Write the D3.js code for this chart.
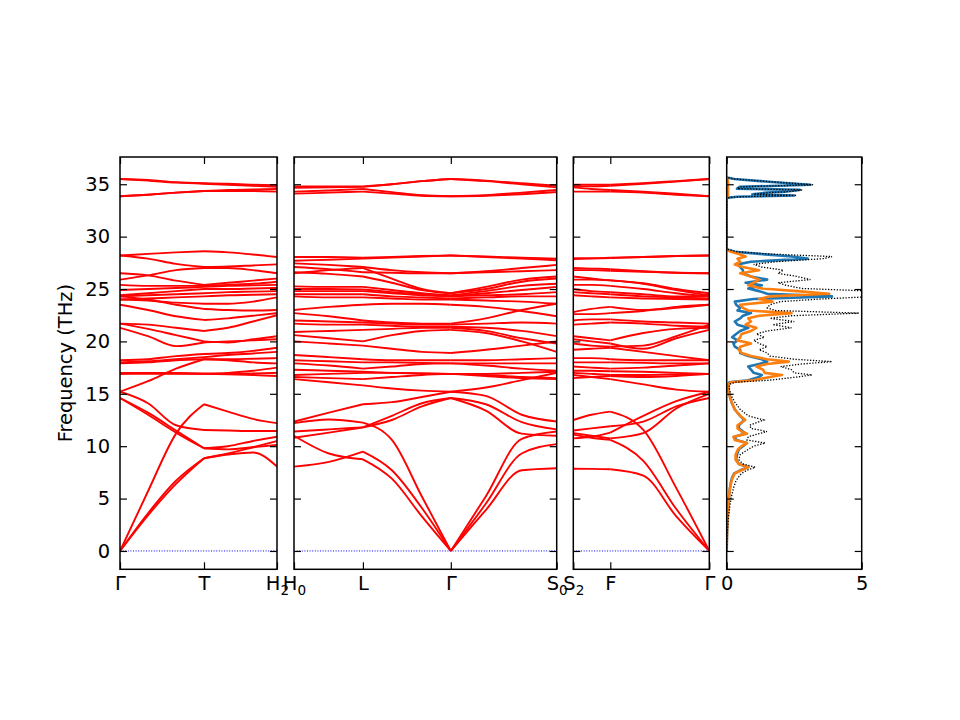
<!DOCTYPE html>
<html>
<head>
<meta charset="utf-8">
<script src="https://cdn.jsdelivr.net/npm/d3@7"></script>
<style>
body { margin: 0; background: #fff; }
text { font-family: "DejaVu Sans", sans-serif; }
</style>
</head>
<body>
<div id="chart"></div>
<script>

// DATOS: caminos k (distancia) y frecuencias (THz) en cada punto

const kTH = [0, 0.28, 0.56, 0.84, 1.08, 1.33, 1.57]
const symTH = [0, 3, 6]
const labTH = ["Γ", "T", "H_2"]

const kHLGS = [0, 0.35, 0.69, 0.98, 1.28, 1.57, 1.92, 2.28, 2.63]
const symHLGS = [0, 2, 5, 8]
const labHLGS = ["H_0", "L", "Γ", "S_0"]

const kSFG = [0, 0.18, 0.37, 0.70, 1.03, 1.36]
const symSFG = [0, 2, 5]
const labSFG = ["S_2", "F", "Γ"]

const bandsTH = [
    [35.5, 35.4, 35.2, 35.1, 35.05, 34.95, 34.9],
    [35.5, 35.35, 35.15, 35.05, 34.95, 34.85, 34.75],
    [33.85, 34.0, 34.2, 34.35, 34.45, 34.5, 34.55],
    [33.85, 34.0, 34.2, 34.35, 34.35, 34.35, 34.3],
    [28.2, 28.35, 28.5, 28.6, 28.5, 28.3, 28.05],
    [28.2, 27.9, 27.4, 27.1, 27.15, 27.25, 27.35],
    [25.9, 26.3, 26.8, 27.0, 27.0, 26.8, 26.5],
    [26.5, 26.3, 25.8, 25.4, 25.6, 25.8, 26.0],
    [25.4, 25.3, 25.3, 25.3, 25.4, 25.5, 25.7],
    [24.9, 25.0, 25.1, 25.2, 25.3, 25.35, 25.4],
    [24.4, 24.6, 24.8, 25.0, 25.0, 25.05, 25.1],
    [24.3, 24.4, 24.5, 24.6, 24.7, 24.75, 24.8],
    [24.0, 24.1, 24.2, 24.3, 24.4, 24.45, 24.5],
    [24.0, 23.9, 23.7, 23.6, 23.6, 23.8, 24.2],
    [24.3, 24.0, 23.5, 23.1, 23.0, 22.95, 23.0],
    [23.5, 23.0, 22.4, 22.05, 22.2, 22.45, 22.7],
    [21.7, 21.6, 21.3, 21.0, 21.3, 21.9, 22.5],
    [21.3, 20.5, 19.55, 19.9, 20.0, 20.1, 20.2],
    [21.7, 21.2, 20.6, 20.0, 19.9, 20.2, 20.5],
    [18.2, 18.3, 18.6, 18.8, 18.9, 19.1, 19.4],
    [18.0, 18.1, 18.3, 18.5, 18.7, 18.85, 19.0],
    [17.9, 18.0, 18.2, 18.3, 18.3, 18.35, 18.4],
    [15.2, 16.2, 17.4, 18.3, 18.2, 18.0, 17.9],
    [16.9, 17.0, 17.0, 16.95, 17.0, 17.2, 17.5],
    [16.9, 16.9, 16.9, 16.9, 16.85, 16.8, 16.7],
    [17.0, 17.0, 16.95, 16.9, 16.9, 16.95, 17.0],
    [15.2, 14.1, 12.0, 11.55, 11.5, 11.45, 11.45],
    [14.6, 13.2, 11.5, 9.8, 10.0, 10.5, 10.9],
    [14.6, 13.0, 11.3, 9.8, 9.7, 9.9, 10.12],
    [0, 5.7, 11.2, 14.0, 13.3, 12.6, 12.2],
    [0, 3.6, 6.7, 8.85, 9.3, 9.9, 10.5],
    [0, 3.4, 6.4, 8.85, 9.2, 9.4, 8.05]
]

const bandsHLGS = [
    [34.8, 34.8, 34.8, 35.0, 35.3, 35.5, 35.35, 35.1, 34.85],
    [34.65, 34.7, 34.75, 35.0, 35.3, 35.5, 35.3, 35.0, 34.7],
    [34.3, 34.4, 34.55, 34.25, 33.95, 33.85, 33.95, 34.2, 34.45],
    [34.1, 34.2, 34.3, 34.1, 33.9, 33.85, 33.9, 34.05, 34.25],
    [28.05, 28.05, 28.0, 28.05, 28.15, 28.2, 28.1, 28.0, 27.9],
    [27.7, 27.8, 27.9, 28.0, 28.1, 28.2, 28.05, 27.9, 27.75],
    [27.45, 27.3, 27.1, 26.8, 26.6, 26.5, 26.7, 27.0, 27.3],
    [27.1, 26.9, 26.6, 26.55, 26.5, 26.5, 26.6, 26.7, 26.8],
    [26.5, 26.8, 27.0, 26.0, 25.0, 24.6, 25.2, 25.9, 26.2],
    [26.6, 26.45, 26.2, 25.6, 24.9, 24.6, 25.0, 25.7, 26.0],
    [25.25, 25.2, 25.2, 24.9, 24.6, 24.4, 24.8, 25.3, 25.5],
    [25.0, 25.0, 24.95, 24.7, 24.5, 24.3, 24.6, 24.9, 25.2],
    [24.8, 24.8, 24.8, 24.6, 24.4, 24.3, 24.4, 24.5, 24.7],
    [24.5, 24.5, 24.5, 24.3, 24.2, 24.1, 24.2, 24.3, 24.3],
    [24.3, 24.2, 24.2, 24.1, 24.0, 24.0, 23.9, 23.8, 23.6],
    [23.0, 23.3, 23.5, 23.6, 23.6, 23.5, 23.3, 22.9, 22.4],
    [22.7, 22.4, 22.0, 21.8, 21.7, 21.7, 22.2, 23.0, 23.6],
    [22.0, 21.9, 21.8, 21.7, 21.6, 21.6, 21.7, 21.8, 21.7],
    [21.7, 21.6, 21.6, 21.5, 21.4, 21.4, 21.3, 21.0, 20.5],
    [20.9, 21.0, 21.1, 21.2, 21.3, 21.3, 21.0, 20.3, 19.8],
    [20.6, 20.3, 20.0, 20.6, 21.0, 21.1, 20.8, 20.0, 19.0],
    [20.0, 19.8, 19.6, 19.3, 19.0, 18.9, 19.2, 19.6, 20.0],
    [18.7, 18.5, 18.3, 18.2, 18.2, 18.2, 18.2, 18.3, 18.4],
    [18.2, 18.1, 18.0, 18.0, 17.95, 17.9, 17.9, 17.9, 17.9],
    [17.9, 17.7, 17.4, 17.6, 17.85, 17.9, 17.7, 17.4, 17.2],
    [17.3, 17.2, 17.1, 17.0, 16.95, 16.9, 16.8, 16.6, 16.5],
    [16.8, 16.9, 17.0, 17.0, 16.95, 16.9, 16.9, 17.0, 17.1],
    [16.6, 16.5, 16.4, 16.6, 16.8, 16.9, 16.7, 16.5, 16.4],
    [16.4, 16.1, 15.8, 15.5, 15.3, 15.2, 15.6, 16.3, 17.0],
    [12.35, 13.2, 14.0, 14.2, 14.7, 15.2, 14.8, 13.0, 12.35],
    [10.8, 11.3, 11.8, 12.9, 14.1, 14.6, 14.0, 12.3, 11.6],
    [11.4, 11.6, 11.8, 12.5, 13.8, 14.6, 13.4, 11.2, 11.0],
    [12.2, 12.55, 12.25, 10.6, 5.2, 0, 5.2, 10.7, 11.4],
    [11.0, 9.3, 8.75, 6.9, 3.3, 0, 4.5, 9.3, 10.2],
    [8.05, 8.5, 9.48, 7.7, 4.1, 0, 3.9, 7.7, 7.9]
]

const bandsSFG = [
    [34.95, 34.95, 34.95, 35.1, 35.3, 35.5],
    [34.8, 34.8, 34.85, 35.05, 35.25, 35.5],
    [34.7, 34.55, 34.45, 34.3, 34.1, 33.85],
    [34.3, 34.3, 34.3, 34.2, 34.0, 33.85],
    [27.95, 27.95, 28.0, 28.05, 28.15, 28.2],
    [27.85, 27.9, 27.95, 28.05, 28.15, 28.2],
    [27.0, 26.95, 26.9, 26.7, 26.55, 26.5],
    [26.8, 26.8, 26.75, 26.65, 26.55, 26.5],
    [26.2, 26.0, 25.8, 25.55, 25.0, 24.6],
    [25.9, 25.9, 25.85, 25.5, 24.9, 24.4],
    [25.4, 25.4, 25.3, 25.0, 24.6, 24.3],
    [25.0, 24.8, 24.7, 24.5, 24.3, 24.3],
    [24.7, 24.6, 24.5, 24.3, 24.2, 24.1],
    [24.4, 24.3, 24.2, 24.1, 24.05, 24.0],
    [22.8, 23.1, 23.3, 23.0, 23.2, 23.5],
    [22.6, 22.6, 22.7, 22.9, 23.3, 23.5],
    [22.0, 22.1, 22.1, 21.9, 21.8, 21.7],
    [21.6, 21.7, 21.8, 21.7, 21.5, 21.4],
    [20.5, 20.3, 20.1, 20.8, 21.2, 21.3],
    [20.2, 20.0, 19.8, 19.3, 20.3, 21.1],
    [19.8, 19.6, 19.5, 19.6, 20.5, 21.6],
    [19.2, 19.3, 19.4, 19.0, 18.6, 18.2],
    [18.4, 18.4, 18.3, 18.2, 18.2, 18.2],
    [18.0, 18.0, 18.0, 17.95, 17.9, 17.9],
    [17.6, 17.5, 17.4, 17.5, 17.7, 17.9],
    [17.2, 17.2, 17.15, 17.1, 17.0, 16.9],
    [17.0, 16.9, 16.8, 16.8, 16.85, 16.9],
    [16.5, 16.6, 16.7, 16.6, 16.7, 16.9],
    [16.8, 16.6, 16.4, 15.9, 15.4, 15.2],
    [12.5, 13.0, 13.3, 11.56, 6.0, 0],
    [11.1, 10.8, 10.6, 8.6, 4.0, 0],
    [7.85, 7.83, 7.8, 7.2, 3.3, 0],
    [11.5, 11.7, 11.9, 12.35, 13.8, 14.6],
    [11.25, 11.0, 10.75, 11.25, 13.6, 15.0],
    [10.75, 10.9, 11.3, 12.9, 14.3, 15.2]
]

// DOS: frecuencia, total (punteado), parcial 1 (azul), parcial 2 (naranja)
const dosFreq = [0, 1, 2, 3, 4, 5, 6, 6.6, 7.0, 7.4, 7.7, 8.0, 8.3, 8.7, 9.2, 9.7, 10.0, 10.3, 10.6, 10.9,
    11.2, 11.4, 11.7, 12.0, 12.5, 12.9, 13.5, 14.2, 14.9, 15.5, 15.9, 16.1, 16.3, 16.6, 16.8, 17.0, 17.3, 17.6, 17.85, 18.07,
    18.3, 18.6, 18.9, 19.2, 19.5, 19.8, 20.1, 20.4, 20.7, 21.0, 21.3, 21.6, 21.9, 22.2, 22.45, 22.7, 22.95, 23.2, 23.5, 23.8,
    24.05, 24.3, 24.55, 24.8, 25.05, 25.35, 25.6, 25.9, 26.2, 26.5, 26.8, 27.1, 27.35, 27.6, 27.9, 28.1, 28.35, 28.55, 28.8,
    33.5, 33.7, 33.8, 33.93, 34.05, 34.2, 34.3, 34.46, 34.58, 34.75, 34.95, 35.1, 35.3, 35.5, 35.65]
const dosTotal = [0, 0.01, 0.03, 0.06, 0.1, 0.16, 0.25, 0.33, 0.42, 0.55, 0.75, 1.06, 0.6, 0.45, 0.5, 0.8, 1.0, 1.43, 0.75, 0.8,
    1.2, 1.49, 0.9, 0.85, 1.37, 0.8, 0.5, 0.3, 0.15, 0.1, 0.1, 0.3, 1.6, 2.6, 3.16, 2.5, 2.4, 2.0, 2.8, 3.9,
    2.5, 1.6, 1.5, 1.2, 1.5, 1.2, 1.0, 1.4, 1.1, 1.5, 2.4, 1.7, 2.5, 1.6, 2.4, 4.9, 1.8, 1.5, 1.6, 2.0,
    3.5, 5.6, 5.8, 5.4, 2.8, 2.2, 1.9, 3.1, 2.6, 1.9, 2.1, 1.3, 1.0, 1.8, 3.6, 3.9, 1.5, 0.4, 0,
    0, 0, 0.4, 2.6, 1.0, 1.6, 2.3, 2.8, 0.4, 0.5, 3.2, 2.4, 1.3, 0.3, 0]
const dosBlue = [0, 0.005, 0.015, 0.03, 0.05, 0.08, 0.12, 0.16, 0.2, 0.28, 0.5, 0.8, 0.45, 0.35, 0.38, 0.45, 0.6, 0.75, 0.35, 0.3,
    0.7, 0.6, 0.45, 0.45, 0.65, 0.5, 0.3, 0.18, 0.1, 0.06, 0.05, 0.1, 0.8, 1.2, 1.3, 1.0, 0.9, 0.8, 1.2, 1.5,
    1.3, 0.8, 0.5, 0.5, 0.3, 0.25, 0.4, 0.2, 0.35, 0.5, 0.8, 0.4, 0.3, 0.5, 0.6, 0.9, 0.4, 0.5, 0.35, 0.3,
    1.0, 3.9, 1.5, 1.2, 0.8, 1.3, 0.7, 1.5, 0.9, 0.6, 0.6, 0.5, 0.4, 0.9, 3.0, 2.4, 1.2, 0.3, 0,
    0, 0, 0.38, 2.5, 0.95, 1.5, 2.2, 2.7, 0.38, 0.48, 3.1, 2.3, 1.25, 0.28, 0]
const dosOrange = [0, 0.005, 0.015, 0.03, 0.05, 0.08, 0.12, 0.17, 0.22, 0.3, 0.55, 0.8, 0.45, 0.33, 0.33, 0.42, 0.55, 0.75, 0.3, 0.25,
    0.75, 0.55, 0.4, 0.4, 0.69, 0.5, 0.3, 0.18, 0.1, 0.06, 0.05, 0.15, 1.0, 1.6, 2.05, 1.4, 1.35, 1.1, 1.5, 2.3,
    1.5, 0.9, 0.55, 0.45, 0.5, 0.9, 0.4, 0.5, 0.55, 0.9, 1.1, 0.7, 0.9, 0.8, 1.2, 2.4, 0.8, 0.6, 0.5, 1.7,
    1.2, 1.6, 3.8, 2.6, 1.3, 0.8, 1.0, 1.2, 0.9, 0.5, 1.2, 0.6, 0.3, 0.5, 0.4, 0.7, 0.45, 0.15, 0,
    0, 0, 0.03, 0.05, 0.05, 0.05, 0.05, 0.05, 0.05, 0.05, 0.05, 0.05, 0.04, 0.03, 0]

const yTicks = [0, 5, 10, 15, 20, 25, 30, 35]
const dosTicks = [0, 5]

// CONSTANTES DE DIBUJO

const width = 960
const height = 720
const plotTop = 157
const plotBottom = 569.3
const tickLen = 7
const fontSize = 19.44

const svg = d3.select("#chart").append("svg").attr("width", width).attr("height", height)

const y = d3.scaleLinear().domain([-1.75, 37.6]).range([plotBottom, plotTop])

const panels = [
    { x0: 120, x1: 277, ks: kTH, sym: symTH, labels: labTH, bands: bandsTH },
    { x0: 294, x1: 556.7, ks: kHLGS, sym: symHLGS, labels: labHLGS, bands: bandsHLGS },
    { x0: 573.3, x1: 709.3, ks: kSFG, sym: symSFG, labels: labSFG, bands: bandsSFG }
]

function styleAxis(g) {
    g.select(".domain").remove()
    g.selectAll(".tick line").attr("stroke", "#000").attr("stroke-width", 1.2)
    g.selectAll(".tick text").attr("fill", "#000")
    g.attr("font-size", fontSize).attr("font-family", "DejaVu Sans")
}

function frame(x0, x1, id) {
    svg.append("clipPath").attr("id", id).append("rect")
        .attr("x", x0).attr("y", plotTop).attr("width", x1 - x0).attr("height", plotBottom - plotTop)
}

function yAxes(x0, x1, withLabels) {
    const left = svg.append("g").attr("transform", `translate(${x0},0)`)
        .call(d3.axisLeft(y).tickValues(yTicks).tickSizeInner(-tickLen).tickSizeOuter(0).tickPadding(10)
            .tickFormat(withLabels ? d3.format("d") : () => ""))
    styleAxis(left)
    const right = svg.append("g").attr("transform", `translate(${x1},0)`)
        .call(d3.axisRight(y).tickValues(yTicks).tickSizeInner(-tickLen).tickSizeOuter(0).tickFormat(() => ""))
    styleAxis(right)
}

// PANELES DE BANDAS

const bandLine = d3.line().curve(d3.curveMonotoneX)

panels.forEach((p, pi) => {
    const x = d3.scaleLinear().domain([0, p.ks[p.ks.length - 1]]).range([p.x0, p.x1])
    const clipId = "clip" + pi
    frame(p.x0, p.x1, clipId)
    const g = svg.append("g").attr("clip-path", `url(#${clipId})`)

    // linea de cero
    g.append("line")
        .attr("x1", x(0)).attr("x2", x(p.ks[p.ks.length - 1]))
        .attr("y1", y(0)).attr("y2", y(0))
        .attr("stroke", "#0000ff").attr("stroke-width", 1).attr("stroke-dasharray", "1,1.6")

    p.bands.forEach(b => {
        for (let s = 0; s < p.sym.length - 1; s++) {
            const pts = d3.range(p.sym[s], p.sym[s + 1] + 1).map(i => [x(p.ks[i]), y(b[i])])
            g.append("path").attr("class", "band")
                .attr("d", bandLine(pts))
                .attr("fill", "none").attr("stroke", "#ff0000").attr("stroke-width", 1.9)
        }
    })

    const symK = p.sym.map(i => p.ks[i])

    const bottomAxis = svg.append("g").attr("transform", `translate(0,${plotBottom})`)
        .call(d3.axisBottom(x).tickValues(symK).tickSizeInner(-tickLen).tickSizeOuter(0).tickPadding(7))
    styleAxis(bottomAxis)
    bottomAxis.selectAll(".tick text").each(function (d, i) {
        const t = d3.select(this)
        const parts = p.labels[i].split("_")
        t.text(null)
        t.append("tspan").text(parts[0])
        if (parts[1]) t.append("tspan").attr("dy", 4.5).attr("font-size", 13.6).text(parts[1])
    })

    const topAxis = svg.append("g").attr("transform", `translate(0,${plotTop})`)
        .call(d3.axisTop(x).tickValues(symK).tickSizeInner(-tickLen).tickSizeOuter(0).tickFormat(() => ""))
    styleAxis(topAxis)

    yAxes(p.x0, p.x1, pi === 0)

    svg.append("rect").attr("x", p.x0).attr("y", plotTop)
        .attr("width", p.x1 - p.x0).attr("height", plotBottom - plotTop)
        .attr("fill", "none").attr("stroke", "#000").attr("stroke-width", 1.5)
})

// PANEL DOS

const dosX0 = 726.7
const dosX1 = 861.7
const xd = d3.scaleLinear().domain([0, 5]).range([dosX0, dosX1])
frame(dosX0, dosX1, "clipDos")
const dosGroup = svg.append("g").attr("clip-path", "url(#clipDos)")

const dosLine = vals => d3.line().x((d, i) => xd(vals[i])).y(d => y(d))(dosFreq)

dosGroup.append("path").attr("d", dosLine(dosBlue))
    .attr("fill", "none").attr("stroke", "#1f77b4").attr("stroke-width", 2.6).attr("stroke-linejoin", "round")
dosGroup.append("path").attr("d", dosLine(dosOrange))
    .attr("fill", "none").attr("stroke", "#ff7f0e").attr("stroke-width", 2.6).attr("stroke-linejoin", "round")
dosGroup.append("path").attr("d", dosLine(dosTotal))
    .attr("fill", "none").attr("stroke", "#000").attr("stroke-width", 1.3).attr("stroke-dasharray", "1.3,1.6")

const dosBottom = svg.append("g").attr("transform", `translate(0,${plotBottom})`)
    .call(d3.axisBottom(xd).tickValues(dosTicks).tickSizeInner(-tickLen).tickSizeOuter(0).tickPadding(7).tickFormat(d3.format("d")))
styleAxis(dosBottom)
const dosTop = svg.append("g").attr("transform", `translate(0,${plotTop})`)
    .call(d3.axisTop(xd).tickValues(dosTicks).tickSizeInner(-tickLen).tickSizeOuter(0).tickFormat(() => ""))
styleAxis(dosTop)
yAxes(dosX0, dosX1, false)

svg.append("rect").attr("x", dosX0).attr("y", plotTop)
    .attr("width", dosX1 - dosX0).attr("height", plotBottom - plotTop)
    .attr("fill", "none").attr("stroke", "#000").attr("stroke-width", 1.5)

// ETIQUETA EJE Y

svg.append("text")
    .attr("transform", `translate(72, ${(plotTop + plotBottom) / 2}) rotate(-90)`)
    .attr("text-anchor", "middle")
    .attr("font-size", fontSize)
    .text("Frequency (THz)")

</script>
</body>
</html>
